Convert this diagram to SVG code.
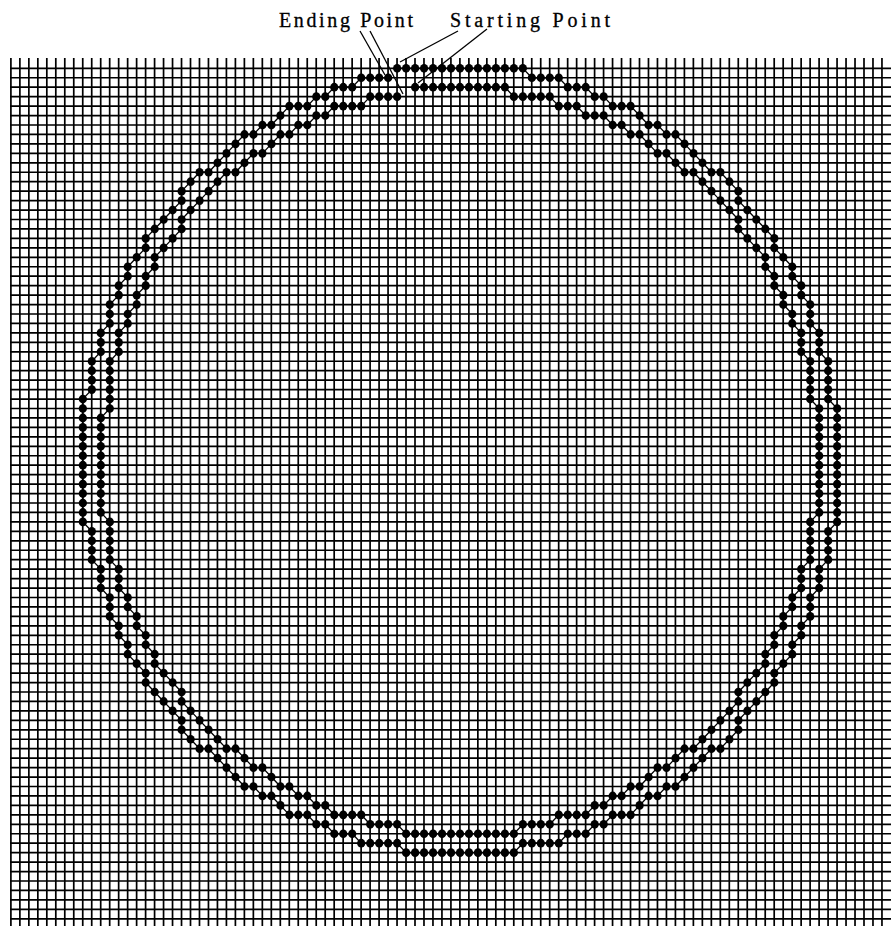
<svg xmlns="http://www.w3.org/2000/svg" width="891" height="926" viewBox="0 0 891 926">
<style>
.grid{fill:none;stroke:#000;stroke-width:1.7}
.trace{fill:none;stroke:#000;stroke-width:1.3;vector-effect:non-scaling-stroke;marker-start:url(#dot);marker-mid:url(#dot);marker-end:url(#dot)}
.lbl{font-family:"Liberation Serif","Times New Roman",serif;font-size:20px;fill:#000;stroke:#000;stroke-width:0.3}
.lead{stroke:#000;stroke-width:1.3;fill:none}
</style>
<defs>
<marker id="dot" markerUnits="userSpaceOnUse" markerWidth="2" markerHeight="2" viewBox="-1 -1 2 2" refX="0" refY="0" overflow="visible"><circle r="0.46" fill="#000"/></marker>
<clipPath id="cv"><rect x="0" y="0" width="884" height="926"/></clipPath>
<clipPath id="ch"><rect x="0" y="0" width="891" height="921"/></clipPath>
</defs>
<rect width="891" height="926" fill="#fff"/>
<g id="grid" class="grid">
<path clip-path="url(#cv)" d="M10.9 58v868m8.98-868v868m8.98-868v868m8.98-868v868m8.98-868v868m8.98-868v868m8.98-868v868m8.98-868v868m8.98-868v868m8.98-868v868m8.98-868v868m8.98-868v868m8.98-868v868m8.98-868v868m8.98-868v868m8.98-868v868m8.98-868v868m8.98-868v868m8.98-868v868m8.98-868v868m8.98-868v868m8.98-868v868m8.98-868v868m8.98-868v868m8.98-868v868m8.98-868v868m8.98-868v868m8.98-868v868m8.98-868v868m8.98-868v868m8.98-868v868m8.98-868v868m8.98-868v868m8.98-868v868m8.98-868v868m8.98-868v868m8.98-868v868m8.98-868v868m8.98-868v868m8.98-868v868m8.98-868v868m8.98-868v868m8.98-868v868m8.98-868v868m8.98-868v868m8.98-868v868m8.98-868v868m8.98-868v868m8.98-868v868m8.98-868v868m8.98-868v868m8.98-868v868m8.98-868v868m8.98-868v868m8.98-868v868m8.98-868v868m8.98-868v868m8.98-868v868m8.98-868v868m8.98-868v868m8.98-868v868m8.98-868v868m8.98-868v868m8.98-868v868m8.98-868v868m8.98-868v868m8.98-868v868m8.98-868v868m8.98-868v868m8.98-868v868m8.98-868v868m8.98-868v868m8.98-868v868m8.98-868v868m8.98-868v868m8.98-868v868m8.98-868v868m8.98-868v868m8.98-868v868m8.98-868v868m8.98-868v868m8.98-868v868m8.98-868v868m8.98-868v868m8.98-868v868m8.98-868v868m8.98-868v868m8.98-868v868m8.98-868v868m8.98-868v868m8.98-868v868m8.98-868v868m8.98-868v868m8.98-868v868m8.98-868v868m8.98-868v868m8.98-868v868m8.98-868v868"/>
<path clip-path="url(#ch)" d="M10 68.3h881m-881 9.45h881m-881 9.45h881m-881 9.45h881m-881 9.45h881m-881 9.45h881m-881 9.45h881m-881 9.45h881m-881 9.45h881m-881 9.45h881m-881 9.45h881m-881 9.45h881m-881 9.45h881m-881 9.45h881m-881 9.45h881m-881 9.45h881m-881 9.45h881m-881 9.45h881m-881 9.45h881m-881 9.45h881m-881 9.45h881m-881 9.45h881m-881 9.45h881m-881 9.45h881m-881 9.45h881m-881 9.45h881m-881 9.45h881m-881 9.45h881m-881 9.45h881m-881 9.45h881m-881 9.45h881m-881 9.45h881m-881 9.45h881m-881 9.45h881m-881 9.45h881m-881 9.45h881m-881 9.45h881m-881 9.45h881m-881 9.45h881m-881 9.45h881m-881 9.45h881m-881 9.45h881m-881 9.45h881m-881 9.45h881m-881 9.45h881m-881 9.45h881m-881 9.45h881m-881 9.45h881m-881 9.45h881m-881 9.45h881m-881 9.45h881m-881 9.45h881m-881 9.45h881m-881 9.45h881m-881 9.45h881m-881 9.45h881m-881 9.45h881m-881 9.45h881m-881 9.45h881m-881 9.45h881m-881 9.45h881m-881 9.45h881m-881 9.45h881m-881 9.45h881m-881 9.45h881m-881 9.45h881m-881 9.45h881m-881 9.45h881m-881 9.45h881m-881 9.45h881m-881 9.45h881m-881 9.45h881m-881 9.45h881m-881 9.45h881m-881 9.45h881m-881 9.45h881m-881 9.45h881m-881 9.45h881m-881 9.45h881m-881 9.45h881m-881 9.45h881m-881 9.45h881m-881 9.45h881m-881 9.45h881m-881 9.45h881m-881 9.45h881m-881 9.45h881m-881 9.45h881m-881 9.45h881m-881 9.45h881m-881 9.45h881m-881 9.45h881m-881 9.45h881"/>
</g>
<g transform="translate(11 68.3) scale(8.98 9.45)">
<g id="loop-a">
<polyline class="trace" points="43,0 44,0 45,0 46,0 47,0 48,0 49,0 50,0 51,0 52,0 53,0 54,0 55,0 56,0 57,0 58,1 59,1 60,1 61,1 62,2 63,2 64,2 65,3 66,3 67,4 68,4 69,4 70,5 71,6 72,6 73,7 74,7 75,8 76,9 77,10 78,11 79,11 80,12 81,13 81,14 82,15 83,16 84,17 85,18 85,19 86,20 87,21 87,22 88,23 88,24 89,25 89,26 89,27 90,28 90,29 90,30 91,31 91,32 91,33 91,34 91,35 92,36 92,37 92,38 92,39 92,40 92,41 92,42 92,43 92,44 92,45 92,46 92,47 92,48 91,49 91,50 91,51 91,52 90,53 90,54 90,55 89,56 89,57 89,58 88,59 88,60 87,61 87,62 86,63 85,64 85,65 84,66 83,67 82,68 81,69 81,70 80,71 79,72 78,72 77,73 76,74 75,75 74,76 73,76 72,77 71,77 70,78 69,79 68,79 67,79 66,80 65,80 64,81 63,81 62,81 61,82 60,82 59,82 58,82 57,82 56,83 55,83 54,83 53,83 52,83 51,83 50,83 49,83 48,83 47,83 46,83 45,83 44,83 43,82 42,82 41,82 40,82 39,82 38,81 37,81 36,81 35,80 34,80 33,79 32,79 31,79 30,78 29,77 28,77 27,76 26,76 25,75 24,74 23,73 22,72 21,72 20,71 19,70 19,69 18,68 17,67 16,66 15,65 15,64 14,63 13,62 13,61 12,60 12,59 11,58 11,57 11,56 10,55 10,54 10,53 9,52 9,51 9,50 9,49 8,48 8,47 8,46 8,45 8,44 8,43 8,42 8,41 8,40 8,39 8,38 8,37 8,36 8,35 9,34 9,33 9,32 9,31 10,30 10,29 10,28 11,27 11,26 11,25 12,24 12,23 13,22 13,21 14,20 15,19 15,18 16,17 17,16 18,15 19,14 19,13 20,12 21,11 22,11 23,10 24,9 25,8 26,7 27,7 28,6 29,6 30,5 31,4 32,4 33,4 34,3 35,3 36,2 37,2 38,2 39,1 40,1 41,1 42,1"/>
</g>
<g id="loop-b">
<polyline class="trace" points="45,2 46,2 47,2 48,2 49,2 50,2 51,2 52,2 53,2 54,2 55,2 56,3 57,3 58,3 59,3 60,3 61,4 62,4 63,4 64,5 65,5 66,5 67,6 68,6 69,7 70,7 71,8 72,9 73,9 74,10 75,11 76,11 77,12 78,13 79,14 80,15 81,16 81,17 82,18 83,19 84,20 84,21 85,22 85,23 86,24 86,25 87,26 87,27 88,28 88,29 88,30 89,31 89,32 89,33 89,34 89,35 90,36 90,37 90,38 90,39 90,40 90,41 90,42 90,43 90,44 90,45 90,46 90,47 89,48 89,49 89,50 89,51 89,52 88,53 88,54 88,55 87,56 87,57 86,58 86,59 85,60 85,61 84,62 84,63 83,64 82,65 81,66 81,67 80,68 79,69 78,70 77,71 76,72 75,72 74,73 73,74 72,74 71,75 70,76 69,76 68,77 67,77 66,78 65,78 64,79 63,79 62,79 61,79 60,80 59,80 58,80 57,80 56,81 55,81 54,81 53,81 52,81 51,81 50,81 49,81 48,81 47,81 46,81 45,81 44,81 43,80 42,80 41,80 40,80 39,79 38,79 37,79 36,79 35,78 34,78 33,77 32,77 31,76 30,76 29,75 28,74 27,74 26,73 25,72 24,72 23,71 22,70 21,69 20,68 19,67 19,66 18,65 17,64 16,63 16,62 15,61 15,60 14,59 14,58 13,57 13,56 12,55 12,54 12,53 11,52 11,51 11,50 11,49 11,48 10,47 10,46 10,45 10,44 10,43 10,42 10,41 10,40 10,39 10,38 10,37 11,36 11,35 11,34 11,33 11,32 11,31 12,30 12,29 12,28 13,27 13,26 14,25 14,24 15,23 15,22 16,21 16,20 17,19 18,18 19,17 19,16 20,15 21,14 22,13 23,12 24,11 25,11 26,10 27,9 28,9 29,8 30,7 31,7 32,6 33,6 34,5 35,5 36,4 37,4 38,4 39,4 40,3 41,3 42,3 43,3"/>
</g>
</g>
<g id="label-ending"><text class="lbl" x="279" y="27" textLength="134" lengthAdjust="spacing">Ending Point</text></g>
<g id="label-starting"><text class="lbl" x="450" y="27" textLength="160" lengthAdjust="spacing">Starting Point</text></g>
<g id="leaders" class="lead">
<line x1="360" y1="31" x2="385" y2="75"/>
<line x1="370" y1="31" x2="403" y2="94"/>
<line x1="458" y1="31" x2="400" y2="62"/>
<line x1="487" y1="29" x2="418" y2="83"/>
</g>
</svg>
